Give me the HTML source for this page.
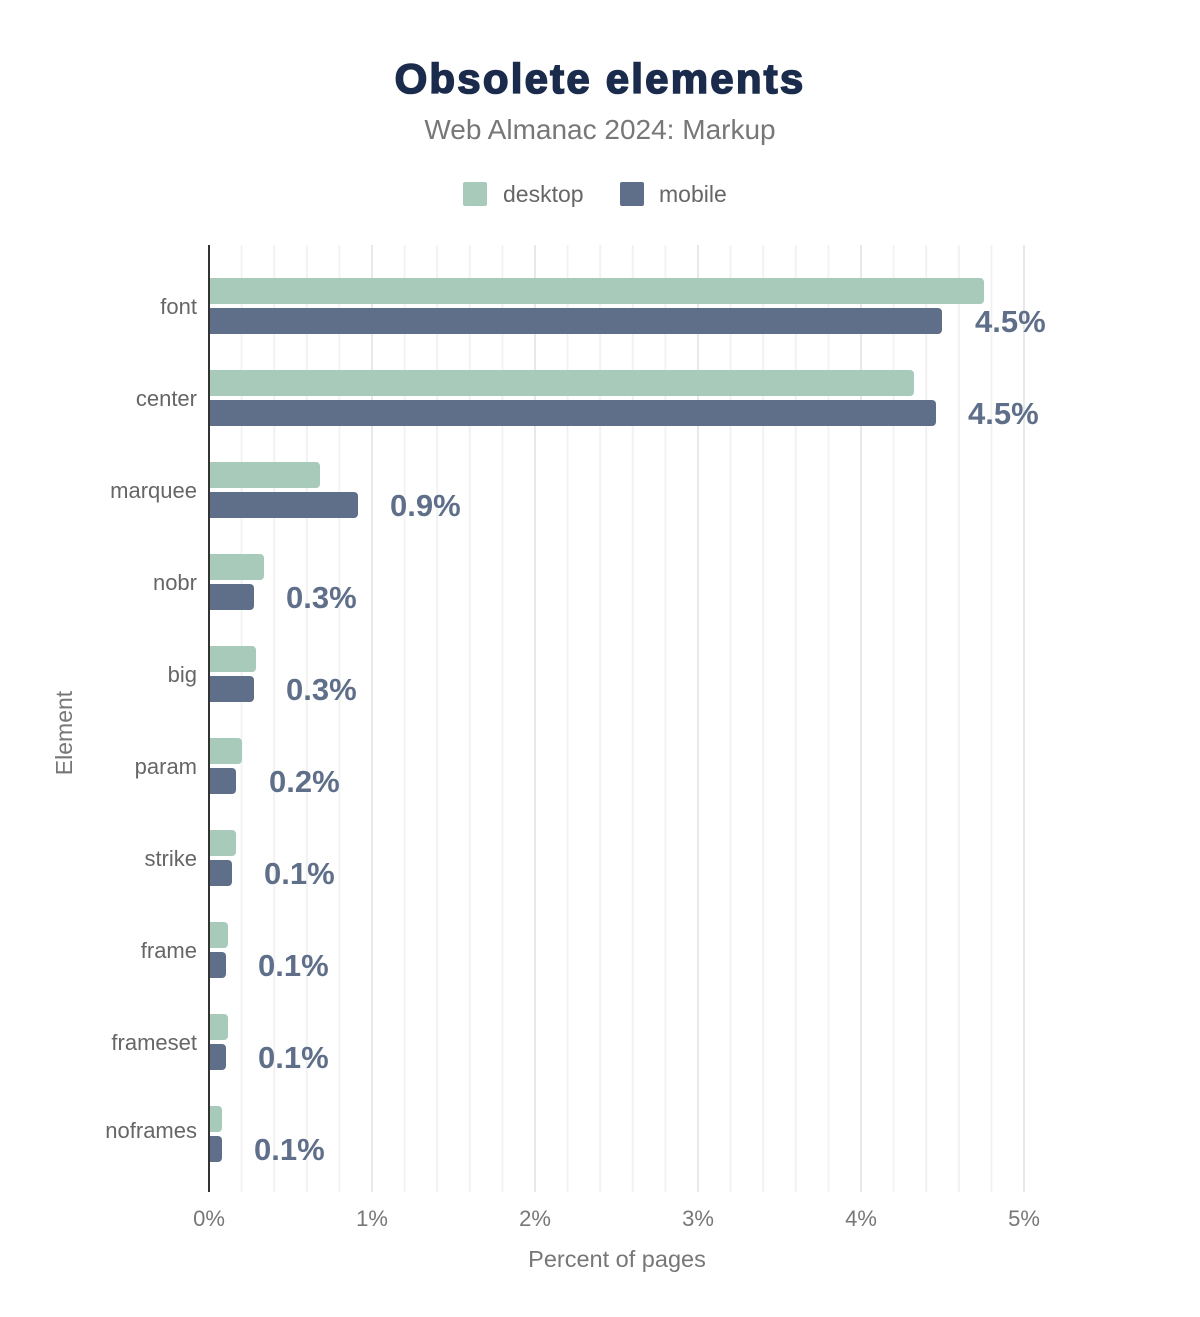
<!DOCTYPE html>
<html><head><meta charset="utf-8"><style>body{margin:0;background:#fff}</style></head><body>
<svg width="1200" height="1312" xmlns="http://www.w3.org/2000/svg" font-family="Liberation Sans, Arial, sans-serif">
<rect width="1200" height="1312" fill="#fff"/>
<text x="600" y="93" text-anchor="middle" font-size="42" font-weight="900" fill="#1a2b4c" stroke="#1a2b4c" stroke-width="1.6" letter-spacing="2.2">Obsolete elements</text>
<text x="600" y="139" text-anchor="middle" font-size="28" fill="#777">Web Almanac 2024: Markup</text>
<rect x="463" y="182" width="24" height="24" rx="2" fill="#a8cabb"/>
<text x="503" y="202" font-size="23" fill="#666">desktop</text>
<rect x="620" y="182" width="24" height="24" rx="2" fill="#5f6f8a"/>
<text x="659" y="202" font-size="23" fill="#666">mobile</text>
<g stroke="#f2f2f2" stroke-width="2">
<line x1="241.6" y1="245" x2="241.6" y2="1192"/><line x1="274.2" y1="245" x2="274.2" y2="1192"/><line x1="306.8" y1="245" x2="306.8" y2="1192"/><line x1="339.4" y1="245" x2="339.4" y2="1192"/>
<line x1="404.6" y1="245" x2="404.6" y2="1192"/><line x1="437.2" y1="245" x2="437.2" y2="1192"/><line x1="469.8" y1="245" x2="469.8" y2="1192"/><line x1="502.4" y1="245" x2="502.4" y2="1192"/>
<line x1="567.6" y1="245" x2="567.6" y2="1192"/><line x1="600.2" y1="245" x2="600.2" y2="1192"/><line x1="632.8" y1="245" x2="632.8" y2="1192"/><line x1="665.4" y1="245" x2="665.4" y2="1192"/>
<line x1="730.6" y1="245" x2="730.6" y2="1192"/><line x1="763.2" y1="245" x2="763.2" y2="1192"/><line x1="795.8" y1="245" x2="795.8" y2="1192"/><line x1="828.4" y1="245" x2="828.4" y2="1192"/>
<line x1="893.6" y1="245" x2="893.6" y2="1192"/><line x1="926.2" y1="245" x2="926.2" y2="1192"/><line x1="958.8" y1="245" x2="958.8" y2="1192"/><line x1="991.4" y1="245" x2="991.4" y2="1192"/>
</g>
<g stroke="#e8e8e8" stroke-width="2">
<line x1="372" y1="245" x2="372" y2="1192"/><line x1="535" y1="245" x2="535" y2="1192"/><line x1="698" y1="245" x2="698" y2="1192"/><line x1="861" y1="245" x2="861" y2="1192"/><line x1="1024" y1="245" x2="1024" y2="1192"/>
</g>
<g id="bars">
<path d="M209 278h771a4 4 0 0 1 4 4v18a4 4 0 0 1-4 4h-771z" fill="#a8cabb"/>
<path d="M209 308h729a4 4 0 0 1 4 4v18a4 4 0 0 1-4 4h-729z" fill="#5f6f8a"/>
<path d="M209 370h701a4 4 0 0 1 4 4v18a4 4 0 0 1-4 4h-701z" fill="#a8cabb"/>
<path d="M209 400h723a4 4 0 0 1 4 4v18a4 4 0 0 1-4 4h-723z" fill="#5f6f8a"/>
<path d="M209 462h107a4 4 0 0 1 4 4v18a4 4 0 0 1-4 4h-107z" fill="#a8cabb"/>
<path d="M209 492h145a4 4 0 0 1 4 4v18a4 4 0 0 1-4 4h-145z" fill="#5f6f8a"/>
<path d="M209 554h51a4 4 0 0 1 4 4v18a4 4 0 0 1-4 4h-51z" fill="#a8cabb"/>
<path d="M209 584h41a4 4 0 0 1 4 4v18a4 4 0 0 1-4 4h-41z" fill="#5f6f8a"/>
<path d="M209 646h43a4 4 0 0 1 4 4v18a4 4 0 0 1-4 4h-43z" fill="#a8cabb"/>
<path d="M209 676h41a4 4 0 0 1 4 4v18a4 4 0 0 1-4 4h-41z" fill="#5f6f8a"/>
<path d="M209 738h29a4 4 0 0 1 4 4v18a4 4 0 0 1-4 4h-29z" fill="#a8cabb"/>
<path d="M209 768h23a4 4 0 0 1 4 4v18a4 4 0 0 1-4 4h-23z" fill="#5f6f8a"/>
<path d="M209 830h23a4 4 0 0 1 4 4v18a4 4 0 0 1-4 4h-23z" fill="#a8cabb"/>
<path d="M209 860h19a4 4 0 0 1 4 4v18a4 4 0 0 1-4 4h-19z" fill="#5f6f8a"/>
<path d="M209 922h15a4 4 0 0 1 4 4v18a4 4 0 0 1-4 4h-15z" fill="#a8cabb"/>
<path d="M209 952h13a4 4 0 0 1 4 4v18a4 4 0 0 1-4 4h-13z" fill="#5f6f8a"/>
<path d="M209 1014h15a4 4 0 0 1 4 4v18a4 4 0 0 1-4 4h-15z" fill="#a8cabb"/>
<path d="M209 1044h13a4 4 0 0 1 4 4v18a4 4 0 0 1-4 4h-13z" fill="#5f6f8a"/>
<path d="M209 1106h9a4 4 0 0 1 4 4v18a4 4 0 0 1-4 4h-9z" fill="#a8cabb"/>
<path d="M209 1136h9a4 4 0 0 1 4 4v18a4 4 0 0 1-4 4h-9z" fill="#5f6f8a"/>
</g>
<line x1="209" y1="245" x2="209" y2="1192" stroke="#333" stroke-width="2"/>
<g font-size="31" font-weight="bold" fill="#5f6f8a">
<text x="975" y="332">4.5%</text>
<text x="968" y="424">4.5%</text>
<text x="390" y="516">0.9%</text>
<text x="286" y="608">0.3%</text>
<text x="286" y="700">0.3%</text>
<text x="269" y="792">0.2%</text>
<text x="264" y="884">0.1%</text>
<text x="258" y="976">0.1%</text>
<text x="258" y="1068">0.1%</text>
<text x="254" y="1160">0.1%</text>
</g>
<g font-size="22" fill="#666" text-anchor="end">
<text x="197" y="314">font</text>
<text x="197" y="406">center</text>
<text x="197" y="498">marquee</text>
<text x="197" y="590">nobr</text>
<text x="197" y="682">big</text>
<text x="197" y="774">param</text>
<text x="197" y="866">strike</text>
<text x="197" y="958">frame</text>
<text x="197" y="1050">frameset</text>
<text x="197" y="1138">noframes</text>
</g>
<g font-size="22" fill="#777" text-anchor="middle">
<text x="209" y="1226">0%</text><text x="372" y="1226">1%</text><text x="535" y="1226">2%</text><text x="698" y="1226">3%</text><text x="861" y="1226">4%</text><text x="1024" y="1226">5%</text>
</g>
<text x="617" y="1267" text-anchor="middle" font-size="23.5" fill="#777">Percent of pages</text>
<text transform="translate(72,733) rotate(-90)" text-anchor="middle" font-size="23" fill="#777">Element</text>
</svg>
</body></html>
